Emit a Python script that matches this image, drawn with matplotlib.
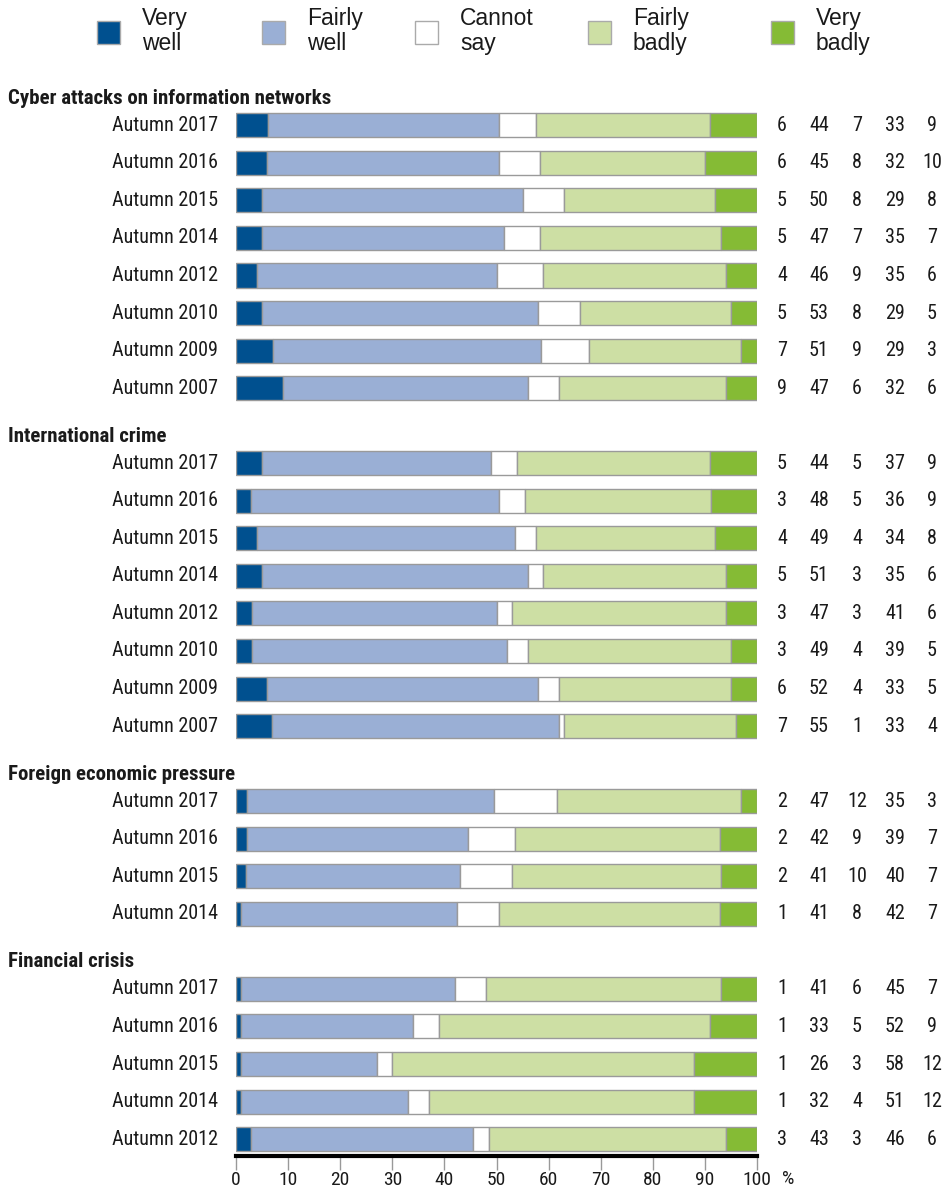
import matplotlib
matplotlib.use("Agg")
import matplotlib.pyplot as plt
import matplotlib.transforms as mtransforms
from matplotlib.patches import Rectangle
from matplotlib import font_manager
import numpy as np

# ---------------- data ----------------
categories = ["Very\nwell", "Fairly\nwell", "Cannot\nsay", "Fairly\nbadly", "Very\nbadly"]
colors = ["#00508f", "#9aafd5", "#ffffff", "#cddfa4", "#85bb35"]

groups = ["Cyber attacks on information networks", "International crime",
          "Foreign economic pressure", "Financial crisis"]

years_cyber = ["Autumn 2017", "Autumn 2016", "Autumn 2015", "Autumn 2014",
               "Autumn 2012", "Autumn 2010", "Autumn 2009", "Autumn 2007"]
cyber_very_well = [6, 6, 5, 5, 4, 5, 7, 9]
cyber_fairly_well = [44, 45, 50, 47, 46, 53, 51, 47]
cyber_cannot_say = [7, 8, 8, 7, 9, 8, 9, 6]
cyber_fairly_badly = [33, 32, 29, 35, 35, 29, 29, 32]
cyber_very_badly = [9, 10, 8, 7, 6, 5, 3, 6]

years_crime = ["Autumn 2017", "Autumn 2016", "Autumn 2015", "Autumn 2014",
               "Autumn 2012", "Autumn 2010", "Autumn 2009", "Autumn 2007"]
crime_very_well = [5, 3, 4, 5, 3, 3, 6, 7]
crime_fairly_well = [44, 48, 49, 51, 47, 49, 52, 55]
crime_cannot_say = [5, 5, 4, 3, 3, 4, 4, 1]
crime_fairly_badly = [37, 36, 34, 35, 41, 39, 33, 33]
crime_very_badly = [9, 9, 8, 6, 6, 5, 5, 4]

years_econ = ["Autumn 2017", "Autumn 2016", "Autumn 2015", "Autumn 2014"]
econ_very_well = [2, 2, 2, 1]
econ_fairly_well = [47, 42, 41, 41]
econ_cannot_say = [12, 9, 10, 8]
econ_fairly_badly = [35, 39, 40, 42]
econ_very_badly = [3, 7, 7, 7]

years_fin = ["Autumn 2017", "Autumn 2016", "Autumn 2015", "Autumn 2014", "Autumn 2012"]
fin_very_well = [1, 1, 1, 1, 3]
fin_fairly_well = [41, 33, 26, 32, 43]
fin_cannot_say = [6, 5, 3, 4, 3]
fin_fairly_badly = [45, 52, 58, 51, 46]
fin_very_badly = [7, 9, 12, 12, 6]

xticks = [0, 10, 20, 30, 40, 50, 60, 70, 80, 90, 100]

group_data = [
    (years_cyber, [cyber_very_well, cyber_fairly_well, cyber_cannot_say, cyber_fairly_badly, cyber_very_badly]),
    (years_crime, [crime_very_well, crime_fairly_well, crime_cannot_say, crime_fairly_badly, crime_very_badly]),
    (years_econ, [econ_very_well, econ_fairly_well, econ_cannot_say, econ_fairly_badly, econ_very_badly]),
    (years_fin, [fin_very_well, fin_fairly_well, fin_cannot_say, fin_fairly_badly, fin_very_badly]),
]

# ---------------- fonts ----------------
avail = {f.name for f in font_manager.fontManager.ttflist}
cond = [f for f in ["Roboto Condensed", "Open Sans Condensed", "Liberation Sans Narrow",
                    "DejaVu Sans Condensed", "Roboto", "Lato"] if f in avail]
COND = cond[:1] + ["DejaVu Sans"]
LEG = [f for f in ["Liberation Sans", "DejaVu Sans"] if f in avail]
TXT = "#1a1a1a"
FS = 14.5

W, H = 948, 1191
fig = plt.figure(figsize=(W / 100, H / 100), dpi=100)
ax = fig.add_axes([236 / W, 1 - 1156 / H, (757 - 236) / W, (1156 - 69) / H])

fig_x_data_y = mtransforms.blended_transform_factory(fig.transFigure, ax.transData)
num_cols_px = [782, 819, 857, 895, 932]

pos = 0
for gi, (gname, (years, series)) in enumerate(zip(groups, group_data)):
    ax.text(8 / W, pos - 0.72, gname, transform=fig_x_data_y, ha="left", va="center",
            fontsize=15, fontweight="bold", family=COND, color=TXT)
    arr = np.array(series, dtype=float)  # 5 x n
    totals = arr.sum(axis=0)
    shares = arr / totals * 100
    ys = np.arange(len(years)) + pos
    left = np.zeros(len(years))
    for ci in range(5):
        ax.barh(ys, shares[ci], left=left, height=0.64, color=colors[ci],
                edgecolor="#9a9a9a", linewidth=1.0, zorder=2)
        left += shares[ci]
    for yi, (yv, lab) in enumerate(zip(ys, years)):
        ax.text(-3.4, yv, lab, ha="right", va="center", fontsize=FS, family=COND, color=TXT)
        for ci in range(5):
            ax.text(num_cols_px[ci] / W, yv, str(series[ci][yi]), transform=fig_x_data_y,
                    ha="center", va="center", fontsize=FS, family=COND, color=TXT)
    pos += len(years) + 1

ax.set_xlim(0, 100)
ax.set_ylim(27.45, -1.5)
for s in ["top", "right", "left"]:
    ax.spines[s].set_visible(False)
ax.spines["bottom"].set_linewidth(3)
ax.spines["bottom"].set_color("black")
ax.set_yticks([])
ax.set_xticks(xticks)
ax.set_xticklabels([str(t) for t in xticks], fontsize=14, family=COND, color=TXT)
ax.tick_params(axis="x", length=10, width=1, color="#999999", pad=1)
fig.text(788 / W, 1 - 1179 / H, "%", ha="center", va="center", fontsize=14, family=COND, color=TXT)

# ---------------- legend ----------------
leg_box_x = [97, 262, 415, 588, 771]
for bx, lab, col in zip(leg_box_x, categories, colors):
    fig.patches.append(Rectangle((bx / W, 1 - 44 / H), 23 / W, 23 / H, transform=fig.transFigure,
                                 facecolor=col, edgecolor="#aaaaaa", linewidth=1))
    fig.text((bx + 45) / W, 1 - 31 / H, lab, ha="left", va="center", fontsize=16.5,
             family=LEG, color=TXT, linespacing=1.12)

fig.savefig("out.png", dpi=100)
